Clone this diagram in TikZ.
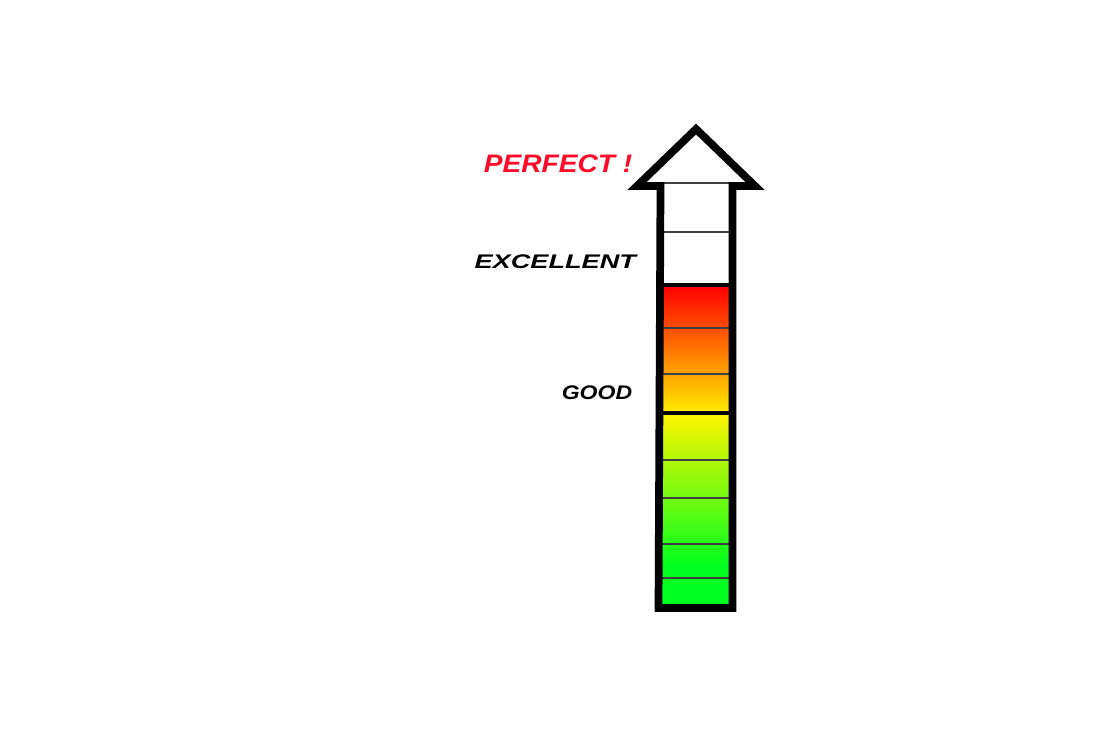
\documentclass[tikz,border=0pt]{standalone}
\usepackage{fontspec}
\setsansfont{Liberation Sans}
\usetikzlibrary{positioning}
\definecolor{perfectred}{RGB}{255,10,40}
\definecolor{hotred}{RGB}{255,0,0}
\definecolor{midorange}{RGB}{255,110,0}
\definecolor{warmyellow}{RGB}{255,235,0}
\definecolor{pureyellow}{RGB}{255,245,0}
\definecolor{limegreen}{RGB}{130,255,0}
\definecolor{brightgreen}{RGB}{0,255,30}

\begin{document}
\begin{tikzpicture}[lbl/.style={font=\sffamily\bfseries\itshape,anchor=east,inner sep=0pt,transform shape},
  thinline/.style={draw=black!75,line width=0.4pt},thickline/.style={draw=black,line width=1.4pt}]
  \useasboundingbox (0,0) rectangle (11.04,7.36);
  \shade[top color=hotred,middle color=midorange,bottom color=warmyellow] (6.58,4.50) rectangle (7.33,3.24);
  \shade[top color=pureyellow,middle color=limegreen,bottom color=brightgreen] (6.58,3.22) rectangle (7.33,1.70);
  \fill[brightgreen] (6.58,1.71) rectangle (7.33,1.28);
  \draw[thinline] (6.6,5.53) -- (7.31,5.53); \draw[thinline] (6.6,5.04) -- (7.31,5.04);
  \draw[thickline] (6.6,4.51) -- (7.31,4.51);
  \draw[thinline] (6.6,4.08) -- (7.31,4.08); \draw[thinline] (6.6,3.62) -- (7.31,3.62);
  \draw[thickline] (6.6,3.23) -- (7.31,3.23);
  \draw[thinline] (6.6,2.76) -- (7.31,2.76); \draw[thinline] (6.6,2.38) -- (7.31,2.38);
  \draw[thinline] (6.6,1.92) -- (7.31,1.92); \draw[thinline] (6.6,1.58) -- (7.31,1.58);
  \draw[line width=2.2pt,line join=miter] (6.585,1.28) -- (6.605,5.50) -- (6.37,5.50) -- (6.96,6.07)
    -- (7.55,5.50) -- (7.325,5.50) -- (7.325,1.28) -- cycle;
  \node[lbl,text=perfectred,font=\sffamily\bfseries\itshape\fontsize{7.2}{8}\selectfont,xscale=1.11] (perfect) at (6.33,5.72) {PERFECT !};
  \node[lbl,font=\sffamily\bfseries\itshape\fontsize{5.6}{7}\selectfont,xscale=1.38] (excellent) at (6.37,4.74) {EXCELLENT};
  \node[lbl,font=\sffamily\bfseries\itshape\fontsize{5.6}{7}\selectfont,xscale=1.17] (good) at (6.33,3.43) {GOOD};
\end{tikzpicture}
\end{document}
